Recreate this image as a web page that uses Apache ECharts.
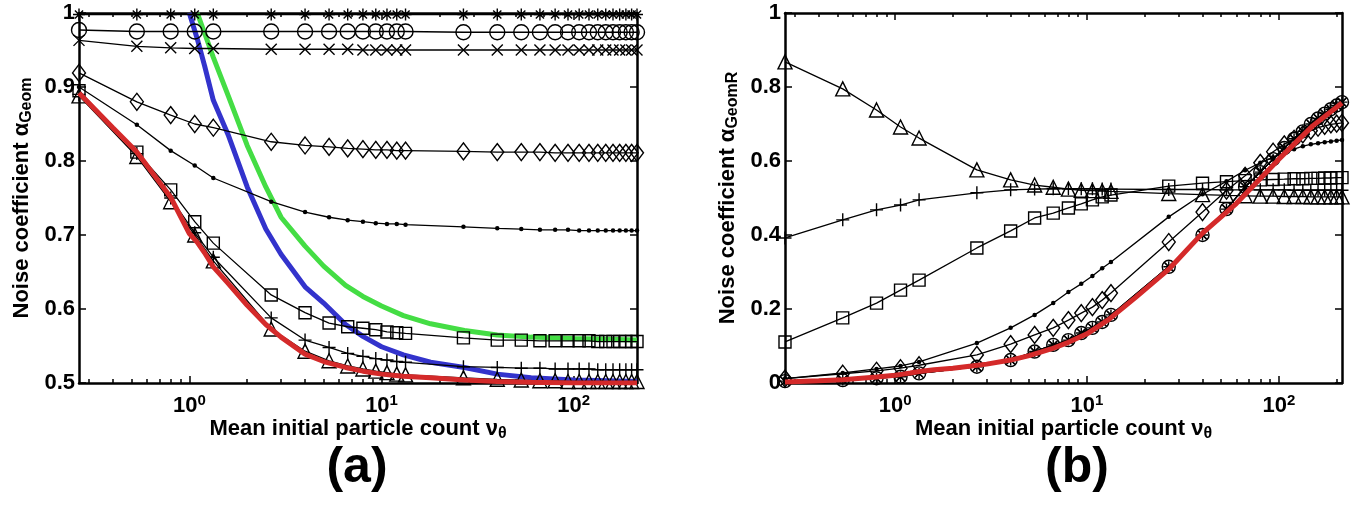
<!DOCTYPE html>
<html>
<head>
<meta charset="utf-8">
<script src="https://cdn.jsdelivr.net/npm/echarts@6/dist/echarts.min.js"></script>
<style>
    html, body { margin: 0; padding: 0; background: #fff; }
    #chart { width: 1353px; height: 512px; }
</style>
</head>
<body>
<div id="chart"></div>
<script>
var FONT = '"Liberation Sans", Arial, sans-serif';

// abscissae of the marked series (mean initial particle count)
var markX = [0.2667, 0.5333, 0.8, 1.067, 1.333, 2.667, 4, 5.333, 6.667, 8, 9.333, 10.67, 12, 13.33,
    26.67, 40, 53.33, 66.67, 80, 93.33, 106.7, 120, 133.3, 146.7, 160, 173.3, 186.7, 200, 213.3];
// abscissae read for the thick coloured curves
var curveX = [0.2667, 0.4, 0.5333, 0.8, 1.0, 1.1, 1.2, 1.333, 1.6, 2.0, 2.5, 3, 4, 5, 6.5, 8, 10, 13, 18, 27, 40, 60, 100, 150, 213.3];

var xMin = 0.2667, xMax = 213.3;
var xMajor = [1, 10, 100];
var xMinor = [0.3, 0.4, 0.5, 0.6, 0.7, 0.8, 0.9, 2, 3, 4, 5, 6, 7, 8, 9, 20, 30, 40, 50, 60, 70, 80, 90, 200];
var yTicksA = [0.5, 0.6, 0.7, 0.8, 0.9, 1];
var yTicksB = [0, 0.2, 0.4, 0.6, 0.8, 1];

// panel (a): alpha_Geom
var starA = [0.998, 0.998, 0.998, 0.998, 0.998, 0.998, 0.998, 0.998, 0.998, 0.998, 0.998, 0.998, 0.998, 0.998,
    0.998, 0.998, 0.998, 0.998, 0.998, 0.998, 0.998, 0.998, 0.998, 0.998, 0.998, 0.998, 0.998, 0.998, 0.998];
var circleA = [0.977, 0.975, 0.975, 0.975, 0.975, 0.975, 0.975, 0.975, 0.975, 0.975, 0.975, 0.975, 0.975, 0.975,
    0.974, 0.974, 0.974, 0.974, 0.974, 0.974, 0.974, 0.974, 0.974, 0.974, 0.974, 0.974, 0.974, 0.974, 0.974];
var crossA = [0.963, 0.955, 0.953, 0.952, 0.952, 0.951, 0.951, 0.951, 0.951, 0.950, 0.950, 0.950, 0.950, 0.950,
    0.950, 0.950, 0.950, 0.950, 0.950, 0.950, 0.950, 0.950, 0.950, 0.950, 0.950, 0.950, 0.950, 0.950, 0.950];
var diamondA = [0.919, 0.880, 0.862, 0.850, 0.845, 0.826, 0.821, 0.819, 0.817, 0.816, 0.815, 0.815, 0.814, 0.814,
    0.813, 0.812, 0.812, 0.812, 0.811, 0.811, 0.811, 0.811, 0.811, 0.811, 0.811, 0.811, 0.811, 0.811, 0.811];
var dotA = [0.900, 0.849, 0.814, 0.794, 0.777, 0.745, 0.731, 0.724, 0.720, 0.718, 0.716, 0.715, 0.715, 0.714,
    0.711, 0.709, 0.708, 0.707, 0.707, 0.707, 0.706, 0.706, 0.706, 0.706, 0.706, 0.706, 0.706, 0.706, 0.706];
var squareA = [0.895, 0.812, 0.761, 0.718, 0.689, 0.619, 0.595, 0.581, 0.576, 0.574, 0.572, 0.569, 0.568, 0.567,
    0.561, 0.558, 0.558, 0.557, 0.557, 0.557, 0.557, 0.557, 0.556, 0.556, 0.556, 0.556, 0.556, 0.556, 0.556];
var plusA = [0.890, 0.810, 0.750, 0.703, 0.670, 0.588, 0.558, 0.548, 0.540, 0.536, 0.533, 0.531, 0.529, 0.528,
    0.522, 0.521, 0.520, 0.520, 0.519, 0.519, 0.519, 0.519, 0.518, 0.518, 0.518, 0.518, 0.518, 0.518, 0.518];
var triangleA = [0.888, 0.806, 0.745, 0.700, 0.665, 0.573, 0.543, 0.530, 0.523, 0.519, 0.516, 0.514, 0.512, 0.511,
    0.507, 0.505, 0.504, 0.503, 0.503, 0.502, 0.502, 0.502, 0.502, 0.502, 0.502, 0.502, 0.502, 0.502, 0.502];
var blueA = [null, null, null, null, 1.0, 0.965, 0.929, 0.882, 0.834, 0.765, 0.708, 0.674, 0.630, 0.608, 0.579,
    0.563, 0.549, 0.538, 0.528, 0.521, 0.512, 0.507, 0.504, 0.503, 0.502];
var greenA = [null, null, null, null, null, 1.0, 0.973, 0.940, 0.887, 0.821, 0.765, 0.724, 0.685, 0.658, 0.632,
    0.617, 0.604, 0.591, 0.580, 0.571, 0.565, 0.562, 0.560, 0.559, 0.558];
var redA = [0.892, 0.845, 0.812, 0.751, 0.702, 0.690, 0.676, 0.657, 0.634, 0.605, 0.579, 0.562, 0.539, 0.529, 0.521,
    0.516, 0.512, 0.509, 0.507, 0.504, 0.502, 0.501, 0.500, 0.500, 0.500];

// panel (b): alpha_GeomR
var triangleB = [0.868, 0.795, 0.738, 0.692, 0.662, 0.576, 0.549, 0.535, 0.529, 0.524, 0.521, 0.520, 0.519, 0.518,
    0.512, 0.509, 0.507, 0.506, 0.505, 0.505, 0.504, 0.504, 0.504, 0.503, 0.503, 0.503, 0.503, 0.503, 0.503];
var plusB = [0.392, 0.441, 0.468, 0.481, 0.495, 0.514, 0.522, 0.524, 0.525, 0.525, 0.525, 0.525, 0.524, 0.524,
    0.523, 0.523, 0.522, 0.522, 0.522, 0.522, 0.522, 0.521, 0.521, 0.521, 0.521, 0.521, 0.521, 0.521, 0.521];
var squareB = [0.111, 0.176, 0.216, 0.251, 0.278, 0.365, 0.411, 0.446, 0.459, 0.473, 0.484, 0.495, 0.503, 0.508,
    0.532, 0.540, 0.544, 0.547, 0.549, 0.550, 0.551, 0.552, 0.552, 0.553, 0.553, 0.554, 0.554, 0.555, 0.555];
var dotB = [0.012, 0.027, 0.038, 0.046, 0.057, 0.108, 0.149, 0.184, 0.216, 0.246, 0.268, 0.289, 0.310, 0.327,
    0.449, 0.510, 0.545, 0.575, 0.595, 0.610, 0.622, 0.632, 0.640, 0.645, 0.648, 0.651, 0.653, 0.655, 0.657];
var diamondB = [0.012, 0.025, 0.033, 0.040, 0.048, 0.076, 0.105, 0.130, 0.149, 0.170, 0.189, 0.205, 0.224, 0.243,
    0.381, 0.462, 0.520, 0.560, 0.595, 0.625, 0.645, 0.660, 0.672, 0.682, 0.690, 0.695, 0.699, 0.701, 0.703];
var circleB = [0.005, 0.008, 0.013, 0.017, 0.026, 0.044, 0.062, 0.085, 0.103, 0.116, 0.135, 0.149, 0.165, 0.184,
    0.314, 0.400, 0.470, 0.530, 0.570, 0.605, 0.635, 0.660, 0.680, 0.700, 0.715, 0.728, 0.740, 0.750, 0.759];
var redB = [0.003, 0.006, 0.009, 0.016, 0.021, 0.024, 0.027, 0.031, 0.036, 0.040, 0.046, 0.051, 0.062, 0.074, 0.092,
    0.110, 0.133, 0.172, 0.232, 0.310, 0.405, 0.485, 0.605, 0.695, 0.757];

var SYM = {
    plus: 'path://M0,5L10,5M5,0L5,10',
    cross: 'path://M0,0L10,10M0,10L10,0',
    star: 'path://M0,5L10,5M5,0L5,10M1.6,1.6L8.4,8.4M1.6,8.4L8.4,1.6'
};

var RICH = {
    m: { fontFamily: FONT, fontWeight: 'bold', fontSize: 22, color: '#000', lineHeight: 24, verticalAlign: 'top' },
    s: { fontFamily: FONT, fontWeight: 'bold', fontSize: 16, color: '#000', lineHeight: 16, verticalAlign: 'bottom', padding: [12, 0, 0, 0] },
    b: { fontFamily: FONT, fontWeight: 'bold', fontSize: 22, color: '#000', lineHeight: 24, verticalAlign: 'bottom' },
    e: { fontFamily: FONT, fontWeight: 'bold', fontSize: 15, color: '#000', lineHeight: 15, verticalAlign: 'top', padding: [0, 0, 12, 0] }
};

function toPts(xs, ys) {
    var out = [];
    xs.forEach(function (x, i) {
        if (ys[i] != null) out.push([Math.log10(x), ys[i]]);
    });
    return out;
}

function markSeries(gi, ys, symbol, size) {
    var dot = symbol === 'dot';
    return {
        type: 'line', xAxisIndex: gi * 4, yAxisIndex: gi * 2,
        data: toPts(markX, ys),
        symbol: dot ? 'circle' : symbol,
        symbolSize: dot ? 4.5 : size,
        showAllSymbol: true,
        lineStyle: { color: '#000', width: 1.3 },
        itemStyle: dot ? { color: '#000', borderWidth: 0 } : { color: 'rgba(0,0,0,0)', borderColor: '#000', borderWidth: 1.4 },
        emphasis: { disabled: true },
        z: 3
    };
}

function curveSeries(gi, ys, color, z) {
    return {
        type: 'line', xAxisIndex: gi * 4, yAxisIndex: gi * 2,
        data: toPts(curveX, ys),
        symbol: 'none',
        lineStyle: { color: color, width: 5 },
        emphasis: { disabled: true },
        z: z
    };
}

var LINE = { color: '#000', width: 2.5 };
var TICK = { color: '#000', width: 1.5 };

function xAxesFor(gi) {
    var base = {
        type: 'value', gridIndex: gi,
        min: Math.log10(xMin), max: Math.log10(xMax),
        splitLine: { show: false }
    };
    var bottomMajor = Object.assign({}, base, {
        position: 'bottom',
        axisLine: { show: true, onZero: false, lineStyle: LINE },
        axisTick: { show: true, inside: true, length: 7, customValues: xMajor.map(Math.log10), lineStyle: TICK },
        axisLabel: {
            show: true, margin: 10, customValues: xMajor.map(Math.log10),
            formatter: function (v) { return '{b|10}{e|' + Math.round(v) + '}'; },
            rich: RICH
        },
        name: '{m|Mean initial particle count ν}{s|θ}',
        nameLocation: 'middle', nameGap: 35, nameMoveOverlap: false,
        nameTextStyle: { rich: RICH }
    });
    var bottomMinor = Object.assign({}, base, {
        position: 'bottom',
        axisLine: { show: false, onZero: false },
        axisTick: { show: true, inside: true, length: 4, customValues: xMinor.map(Math.log10), lineStyle: TICK },
        axisLabel: { show: false }
    });
    var topMajor = Object.assign({}, base, {
        position: 'top',
        axisLine: { show: true, onZero: false, lineStyle: LINE },
        axisTick: { show: true, inside: true, length: 7, customValues: xMajor.map(Math.log10), lineStyle: TICK },
        axisLabel: { show: false }
    });
    var topMinor = Object.assign({}, base, {
        position: 'top',
        axisLine: { show: false, onZero: false },
        axisTick: { show: true, inside: true, length: 4, customValues: xMinor.map(Math.log10), lineStyle: TICK },
        axisLabel: { show: false }
    });
    return [bottomMajor, bottomMinor, topMajor, topMinor];
}

function yAxesFor(gi, ticks, title) {
    var base = {
        type: 'value', gridIndex: gi,
        min: ticks[0], max: ticks[ticks.length - 1], interval: ticks[1] - ticks[0],
        splitLine: { show: false },
        axisLine: { show: true, onZero: false, lineStyle: LINE },
        axisTick: { show: true, inside: true, length: 7, lineStyle: TICK }
    };
    var left = Object.assign({}, base, {
        position: 'left',
        axisLabel: {
            show: true, margin: 4, color: '#000',
            fontFamily: FONT, fontWeight: 'bold', fontSize: 22,
            formatter: function (v) { return String(Math.round(v * 10) / 10); }
        },
        name: title,
        nameLocation: 'middle', nameGap: 44, nameRotate: 90, nameMoveOverlap: false,
        nameTextStyle: { rich: RICH }
    });
    var right = Object.assign({}, base, {
        position: 'right',
        axisLabel: { show: false }
    });
    return [left, right];
}

var chart = echarts.init(document.getElementById('chart'));

var option = {
    animation: false,
    backgroundColor: '#fff',
    grid: [
        { left: 79, top: 13, width: 558, height: 370 },
        { left: 785, top: 13, width: 557, height: 370 }
    ],
    xAxis: xAxesFor(0).concat(xAxesFor(1)),
    yAxis: yAxesFor(0, yTicksA, '{m|Noise coefficient α}{s|Geom}')
        .concat(yAxesFor(1, yTicksB, '{m|Noise coefficient α}{s|GeomR}')),
    series: [
        curveSeries(0, blueA, '#3333cc', 2),
        curveSeries(0, greenA, '#44dd44', 2),
        markSeries(0, starA, SYM.star, 12),
        markSeries(0, circleA, 'circle', 15),
        markSeries(0, crossA, SYM.cross, 11),
        markSeries(0, diamondA, 'diamond', [13, 17]),
        markSeries(0, dotA, 'dot'),
        markSeries(0, squareA, 'rect', 12),
        markSeries(0, plusA, SYM.plus, 13),
        markSeries(0, triangleA, 'triangle', 14),
        curveSeries(0, redA, '#d42a2a', 4),

        markSeries(1, triangleB, 'triangle', 14),
        markSeries(1, plusB, SYM.plus, 13),
        markSeries(1, squareB, 'rect', 12),
        markSeries(1, dotB, 'dot'),
        markSeries(1, diamondB, 'diamond', [13, 17]),
        markSeries(1, circleB, 'circle', 13),
        markSeries(1, circleB, SYM.cross, 9),
        markSeries(1, circleB, SYM.star, 11),
        curveSeries(1, redB, '#d42a2a', 4)
    ],
    graphic: [
        { type: 'text', x: 357, y: 468, style: { text: '(a)', fill: '#000', font: 'bold 50px ' + FONT, align: 'center', verticalAlign: 'middle' } },
        { type: 'text', x: 1077, y: 468, style: { text: '(b)', fill: '#000', font: 'bold 50px ' + FONT, align: 'center', verticalAlign: 'middle' } }
    ]
};

chart.setOption(option);
</script>
</body>
</html>
